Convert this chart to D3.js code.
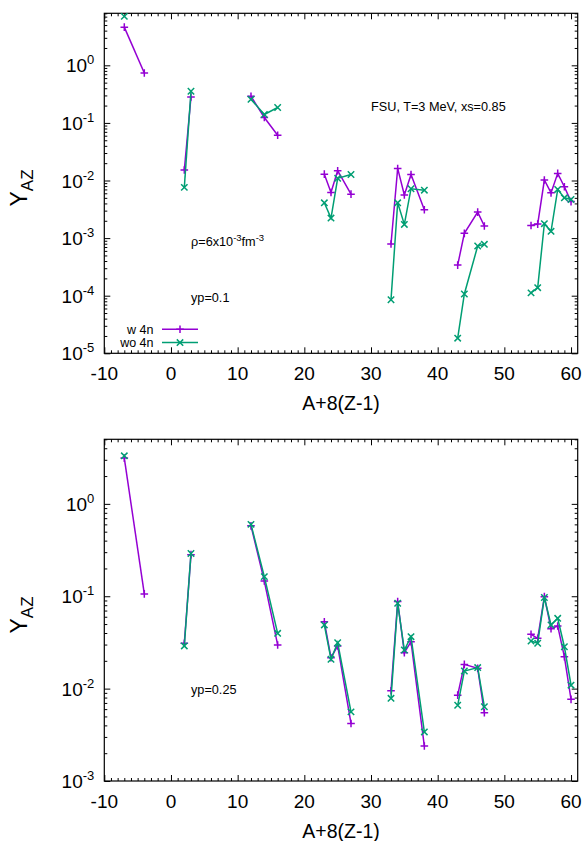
<!DOCTYPE html>
<html>
<head>
<meta charset="utf-8">
<script src="https://cdn.jsdelivr.net/npm/d3@7"></script>
<style>
  body { margin: 0; background: #fff; }
  svg text { font-family: "Liberation Sans", Arial, sans-serif; fill: #000; }
</style>
</head>
<body>
<div id="chart"></div>
<script>
// x positions of each isotope group, A+8(Z-1)
const xGroups = [[-7, -4], [2, 3], [12, 14, 16], [23, 24, 25, 27], [33, 34, 35, 36, 38], [43, 44, 46, 47], [54, 55, 56, 57, 58, 59, 60]];

// yp=0.1 panel
const topWith = [[4.6, 0.735], [0.0152, 0.282], [0.29, 0.124, 0.061], [0.0129, 0.0062, 0.0148, 0.0058],
  [7.9e-4, 0.0162, 0.0056, 0.0127, 0.0031], [3.4e-4, 0.00121, 0.00283, 0.00162],
  [0.00166, 0.00175, 0.0102, 0.0061, 0.0133, 0.0078, 0.0043]];
const topWithout = [[7.07, null], [0.0076, 0.355], [0.257, 0.14, 0.185], [0.0041, 0.00223, 0.0109, 0.0127],
  [8.5e-5, 0.0041, 0.00173, 0.0072, 0.0068], [1.83e-5, 1.07e-4, 7.3e-4, 7.8e-4],
  [1.12e-4, 1.38e-4, 0.00178, 0.00131, 0.0070, 0.0050, 0.0047]];

// yp=0.25 panel
const botWith = [[3.13, 0.106], [0.031, 0.282], [0.578, 0.146, 0.0297], [0.053, 0.0216, 0.029, 0.0042],
  [0.0095, 0.0875, 0.0245, 0.0322, 0.00239], [0.0085, 0.0183, 0.0166, 0.00548],
  [0.0387, 0.035, 0.099, 0.0446, 0.0477, 0.0222, 0.00765]];
const botWithout = [[3.31, null], [0.029, 0.29], [0.60, 0.163, 0.0397], [0.0489, 0.0208, 0.0314, 0.0056],
  [0.00785, 0.084, 0.0262, 0.0365, 0.0034], [0.0066, 0.0155, 0.0169, 0.00637],
  [0.0328, 0.031, 0.097, 0.0489, 0.0577, 0.0284, 0.0109]];

const xTicks = [-10, 0, 10, 20, 30, 40, 50, 60];
const seriesNames = ['w 4n', 'wo 4n'];
const colors = ['#9400d3', '#009e73'];

const width = 586, height = 841;
const left = 104.3, right = 577.7;

const svg = d3.select('#chart').append('svg')
  .attr('width', width)
  .attr('height', height);

function drawPanel(cfg) {
  const x = d3.scaleLinear().domain([-10, 61]).range([left, right]);
  const y = d3.scaleLog().domain(cfg.yDomain).range([cfg.bottom, cfg.top]);
  const g = svg.append('g');

  // minor x ticks every unit, bottom and top
  const minorX = d3.range(-10, 61, 1).filter(v => v % 10 !== 0);
  g.append('g').attr('transform', `translate(0,${cfg.bottom})`)
    .call(d3.axisBottom(x).tickValues(minorX).tickSize(-3).tickFormat(''));
  g.append('g').attr('transform', `translate(0,${cfg.top})`)
    .call(d3.axisTop(x).tickValues(minorX).tickSize(-3).tickFormat(''));
  g.append('g').attr('transform', `translate(0,${cfg.bottom})`)
    .call(d3.axisBottom(x).tickValues(xTicks).tickSize(-6).tickFormat(''));
  g.append('g').attr('transform', `translate(0,${cfg.top})`)
    .call(d3.axisTop(x).tickValues(xTicks).tickSize(-6).tickFormat(''));
  g.selectAll('.xlab').data(xTicks).enter().append('text')
    .attr('class', 'xlab')
    .attr('x', d => x(d)).attr('y', cfg.bottom + 26.5)
    .attr('text-anchor', 'middle').attr('font-size', 19)
    .text(d => d);

  // log y ticks
  const [lo, hi] = cfg.yDomain;
  const majorY = [], minorY = [];
  for (let e = Math.round(Math.log10(lo)); e <= Math.ceil(Math.log10(hi)); e++) {
    const base = Math.pow(10, e);
    if (base >= lo && base <= hi) majorY.push(base);
    for (let k = 2; k <= 9; k++) {
      const v = k * base;
      if (v >= lo && v <= hi) minorY.push(v);
    }
  }
  [[d3.axisLeft, left], [d3.axisRight, right]].forEach(([ax, pos]) => {
    g.append('g').attr('transform', `translate(${pos},0)`)
      .call(ax(y).tickValues(minorY).tickSize(-3).tickFormat(''));
    g.append('g').attr('transform', `translate(${pos},0)`)
      .call(ax(y).tickValues(majorY).tickSize(-6).tickFormat(''));
  });
  g.selectAll('.domain').remove();
  g.selectAll('line').attr('stroke', '#000');

  g.append('rect')
    .attr('x', left).attr('y', cfg.top)
    .attr('width', right - left).attr('height', cfg.bottom - cfg.top)
    .attr('fill', 'none').attr('stroke', '#000').attr('stroke-width', 1.2);

  // y tick labels 10^n
  majorY.forEach(v => {
    const t = g.append('text')
      .attr('x', left - 10).attr('y', y(v) + 7)
      .attr('text-anchor', 'end').attr('font-size', 19);
    t.append('tspan').text('10');
    t.append('tspan').attr('font-size', 13).attr('dy', -8).text(Math.round(Math.log10(v)));
  });

  // axis titles
  g.append('text')
    .attr('x', (left + right) / 2).attr('y', cfg.bottom + 57)
    .attr('text-anchor', 'middle').attr('font-size', 19.5)
    .text('A+8(Z-1)');
  const yl = g.append('text')
    .attr('transform', `translate(27,${cfg.labelY}) rotate(-90)`)
    .attr('text-anchor', 'middle').attr('font-size', 23);
  yl.append('tspan').text('Y');
  yl.append('tspan').attr('font-size', 17).attr('dy', 6).text('AZ');

  // series
  const line = d3.line()
    .defined(d => d.v != null)
    .x(d => x(d.x)).y(d => y(d.v));
  [cfg.withData, cfg.withoutData].forEach((series, si) => {
    const sg = g.append('g');
    series.forEach((vals, gi) => {
      const pts = xGroups[gi].map((xv, i) => ({ x: xv, v: vals[i] }));
      sg.append('path').datum(pts)
        .attr('d', line)
        .attr('fill', 'none').attr('stroke', colors[si]).attr('stroke-width', 1.5);
      pts.filter(d => d.v != null).forEach(d => {
        const cx = x(d.x), cy = y(d.v);
        const s = si === 0 ? 3.8 : 3.2;
        const path = si === 0
          ? `M${cx - s},${cy}H${cx + s}M${cx},${cy - s}V${cy + s}`
          : `M${cx - s},${cy - s}L${cx + s},${cy + s}M${cx - s},${cy + s}L${cx + s},${cy - s}`;
        sg.append('path').attr('d', path)
          .attr('stroke', colors[si]).attr('stroke-width', 1.5);
      });
    });
  });

  return { g, x, y };
}

const topPanel = drawPanel({
  top: 13.3, bottom: 353.3, yDomain: [1e-5, 8], labelY: 188,
  withData: topWith, withoutData: topWithout
});
const botPanel = drawPanel({
  top: 439.3, bottom: 781, yDomain: [1e-3, 5], labelY: 615,
  withData: botWith, withoutData: botWithout
});

// annotations
topPanel.g.append('text').attr('x', 371).attr('y', 110.5).attr('font-size', 12.7)
  .text('FSU, T=3 MeV, xs=0.85');
const rho = topPanel.g.append('text').attr('x', 191).attr('y', 245.5).attr('font-size', 12.7);
rho.append('tspan').text('ρ=6x10');
rho.append('tspan').attr('font-size', 9.5).attr('dy', -5).text('-3');
rho.append('tspan').attr('dy', 5).text('fm');
rho.append('tspan').attr('font-size', 9.5).attr('dy', -5).text('-3');
topPanel.g.append('text').attr('x', 191).attr('y', 301.5).attr('font-size', 12.7).text('yp=0.1');
botPanel.g.append('text').attr('x', 191).attr('y', 693.5).attr('font-size', 12.7).text('yp=0.25');

// legend
const legend = topPanel.g.append('g');
seriesNames.forEach((name, i) => {
  const ly = 329.3 + i * 13.3;
  legend.append('text').attr('x', 153.5).attr('y', ly + 4.5)
    .attr('text-anchor', 'end').attr('font-size', 12.5).text(name);
  legend.append('line').attr('x1', 162).attr('x2', 198).attr('y1', ly).attr('y2', ly)
    .attr('stroke', colors[i]).attr('stroke-width', 1.5);
  const cx = 180, s = i === 0 ? 3.8 : 3.2;
  legend.append('path')
    .attr('d', i === 0
      ? `M${cx - s},${ly}H${cx + s}M${cx},${ly - s}V${ly + s}`
      : `M${cx - s},${ly - s}L${cx + s},${ly + s}M${cx - s},${ly + s}L${cx + s},${ly - s}`)
    .attr('stroke', colors[i]).attr('stroke-width', 1.5);
});
</script>
</body>
</html>
